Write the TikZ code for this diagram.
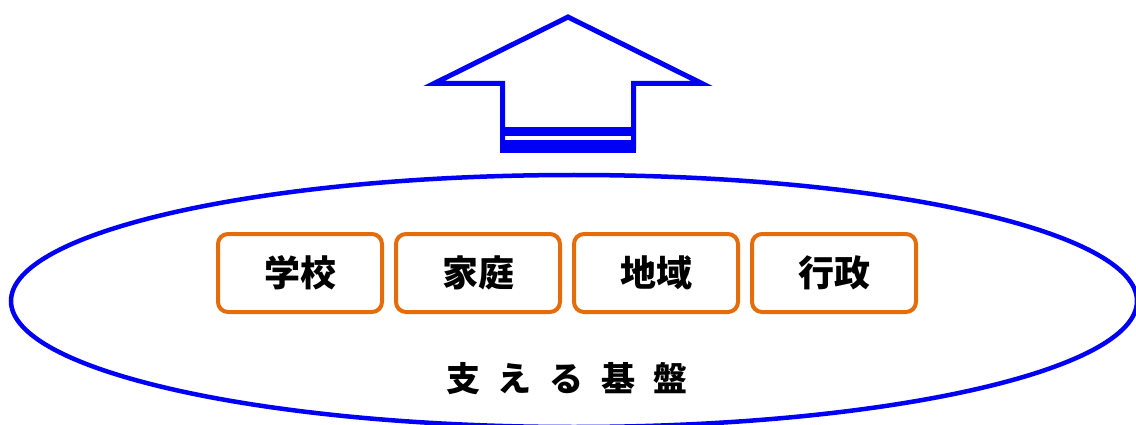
\documentclass[tikz,border=0pt]{standalone}
\usepackage{fontspec}
\newfontfamily\jp{Noto Sans CJK JP}
\definecolor{baseblue}{RGB}{0,0,245}
\definecolor{boxorange}{RGB}{228,108,10}

\tikzset{
  pillar/.style={draw=boxorange, line width=4pt, rounded corners=10pt,
    minimum width=164pt, minimum height=78pt, font=\jp\bfseries\fontsize{36pt}{36pt}\selectfont},
  ring/.style={draw=baseblue, line width=4.5pt}
}

\begin{document}
\begin{tikzpicture}[x=1pt, y=-1pt]
\useasboundingbox (0,0) rectangle (1136,425);

% supporting base
\draw[ring] (574,301) ellipse [x radius=563pt, y radius=126pt];

% arrow
\draw[baseblue, line width=5pt] (502.5,150) -- (502.5,83.5) -- (434,83.5) -- (568,17)
  -- (702,83.5) -- (633.5,83.5) -- (633.5,150);
\fill[baseblue] (500,127) rectangle (636,136);
\fill[baseblue] (500,140) rectangle (636,153);

\node[pillar] (school) at (300,273) {学校};
\node[pillar] (home) at (478,273) {家庭};
\node[pillar] (area) at (656,273) {地域};
\node[pillar] (admin) at (834,273) {行政};

\node[font=\jp\bfseries\fontsize{34pt}{34pt}\selectfont] (label) at (567,379)
  {\spaceskip=18pt 支 え る 基 盤};

\end{tikzpicture}
\end{document}
